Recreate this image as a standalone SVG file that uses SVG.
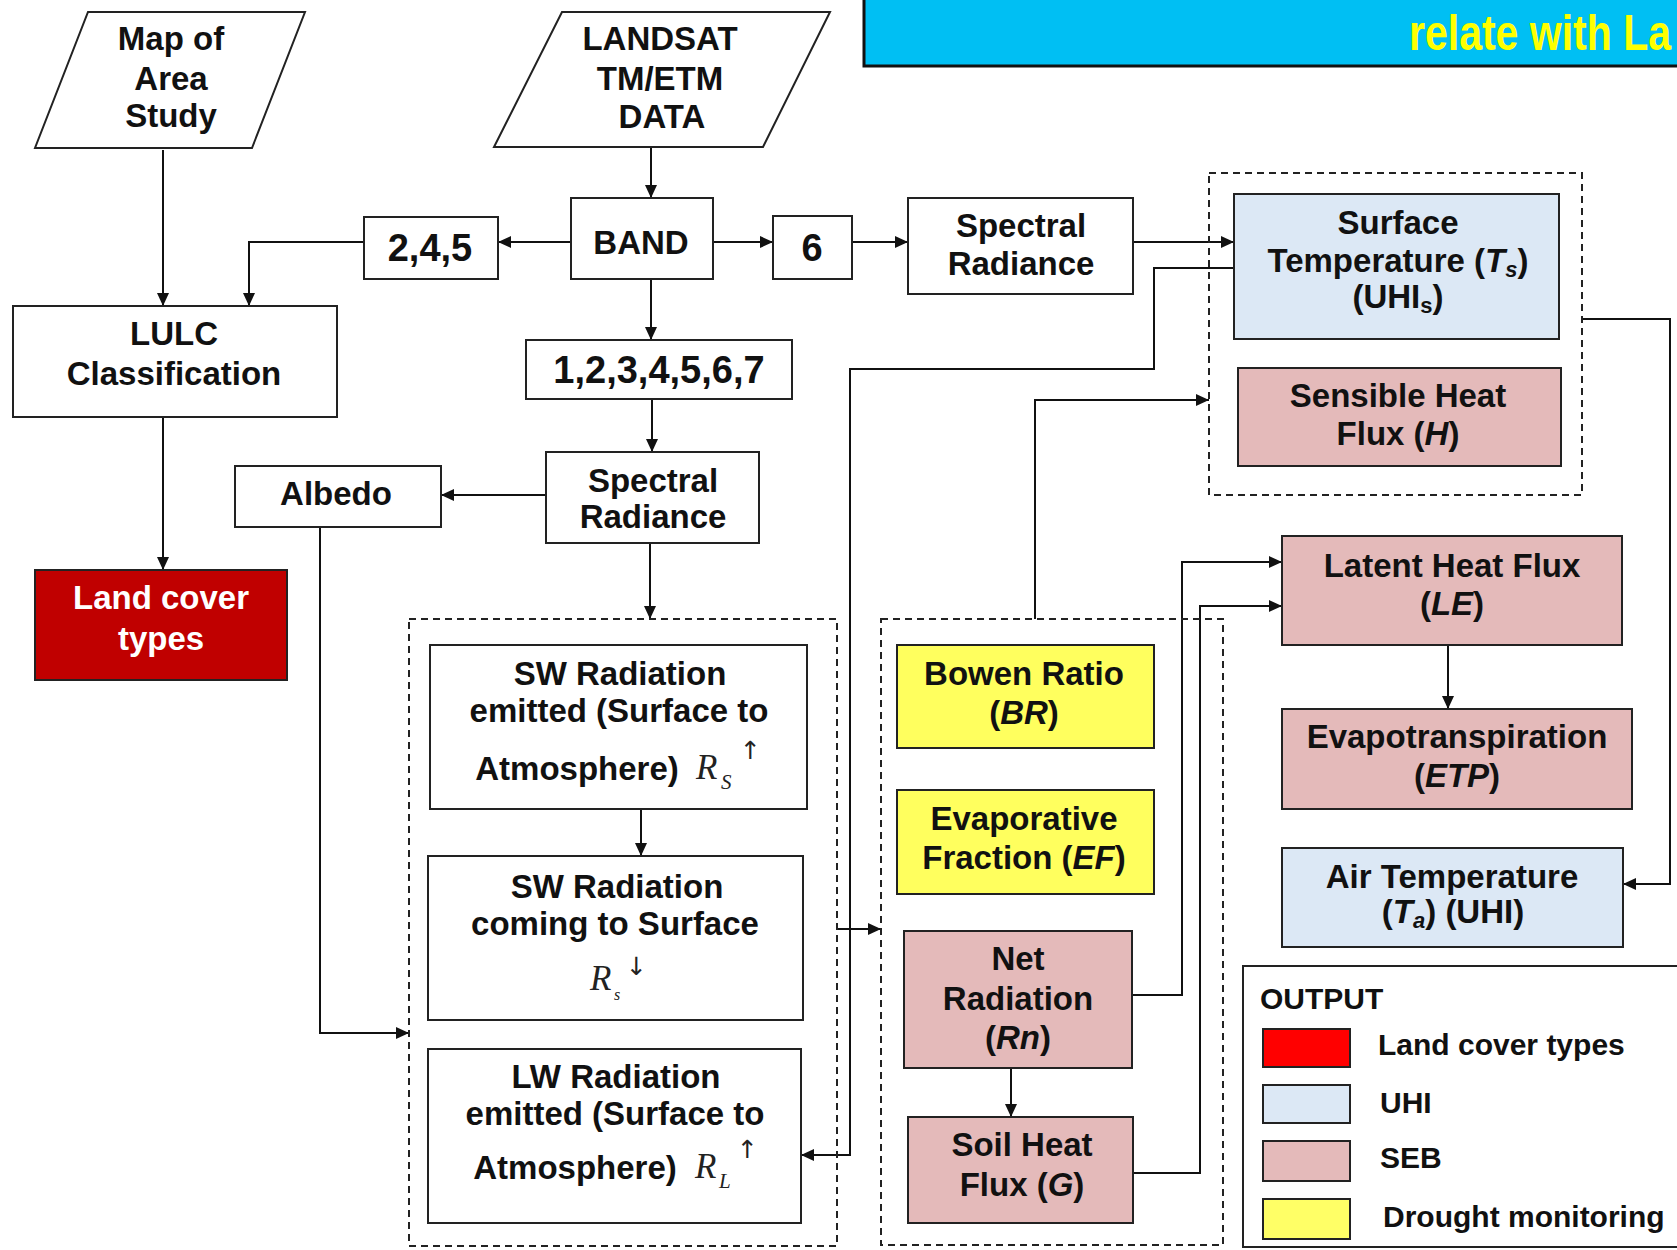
<svg xmlns="http://www.w3.org/2000/svg" width="1677" height="1250" viewBox="0 0 1677 1250">
<defs>
<marker id="ah" markerUnits="userSpaceOnUse" markerWidth="14" markerHeight="12" refX="13" refY="6" orient="auto">
<path d="M0,0 L13,6 L0,12 z" fill="#111"/>
</marker>
<style>
.box{stroke:#222;stroke-width:2;fill:#fff}
.blue{fill:#dce8f5}
.pink{fill:#e4baba}
.yel{fill:#ffff5e}
.red{fill:#c00000}
.dash{fill:none;stroke:#222;stroke-width:2;stroke-dasharray:7,5}
.t{font-family:"Liberation Sans",Arial,sans-serif;font-weight:bold;font-size:33px;fill:#111;text-anchor:middle}
.big{font-size:38px}
.m{font-family:"Liberation Serif","DejaVu Serif",serif;font-style:italic;font-weight:normal;fill:#222}
.ar{font-family:"DejaVu Sans",sans-serif;font-weight:normal;font-style:normal;fill:#222}
.c{fill:none;stroke:#111;stroke-width:2}
.ca{fill:none;stroke:#111;stroke-width:2;marker-end:url(#ah)}
.lg{font-family:"Liberation Sans",Arial,sans-serif;font-weight:bold;font-size:30px;fill:#111}
</style>
</defs>
<rect width="1677" height="1250" fill="#fff"/>

<g id="title">
<rect x="864" y="-5" width="830" height="71" fill="#00bff3" stroke="#111" stroke-width="3"/>
<text x="1409" y="50" font-family="'Liberation Sans',Arial,sans-serif" font-weight="bold" font-size="50" fill="#ffff00" textLength="262" lengthAdjust="spacingAndGlyphs">relate with La</text>
</g>

<g id="connectors">
<path class="ca" d="M163,150 V306"/>
<path class="ca" d="M651,148 V198"/>
<path class="ca" d="M571,242 H498"/>
<path class="ca" d="M364,242 H249 V306"/>
<path class="ca" d="M713,242 H773"/>
<path class="ca" d="M852,242 H908"/>
<path class="ca" d="M651,279 V340"/>
<path class="ca" d="M1133,242 H1234"/>
<path class="ca" d="M652,399 V452"/>
<path class="ca" d="M163,417 V570"/>
<path class="ca" d="M546,495 H441"/>
<path class="ca" d="M650,543 V619"/>
<path class="ca" d="M320,527 V1033 H409"/>
<path class="ca" d="M641,809 V856"/>
<path class="ca" d="M1238,268 H1154 V369 H850 V1155 H801"/>
<path class="ca" d="M837,929 H881"/>
<path class="ca" d="M1035,619 V400 H1209"/>
<path class="ca" d="M1132,995 H1182 V562 H1282"/>
<path class="ca" d="M1133,1173 H1200 V606 H1282"/>
<path class="ca" d="M1448,645 V709"/>
<path class="ca" d="M1011,1068 V1117"/>
<path class="ca" d="M1582,319 H1670 V884 H1623"/>
</g>

<g id="map">
<polygon class="box" points="88,12 305,12 252,148 35,148"/>
<text class="t" x="171" y="50">Map of</text>
<text class="t" x="171" y="90">Area</text>
<text class="t" x="171" y="127">Study</text>
</g>

<g id="landsat">
<polygon class="box" points="562,12 830,12 763,147 494,147"/>
<text class="t" x="660" y="50">LANDSAT</text>
<text class="t" x="660" y="90">TM/ETM</text>
<text class="t" x="662" y="128">DATA</text>
</g>

<g id="band">
<rect class="box" x="571" y="198" width="142" height="81"/>
<text class="t" x="641" y="254">BAND</text>
</g>

<g id="b245">
<rect class="box" x="364" y="217" width="134" height="62"/>
<text class="t big" x="430" y="261">2,4,5</text>
</g>

<g id="b6">
<rect class="box" x="773" y="216" width="79" height="63"/>
<text class="t big" x="812" y="261">6</text>
</g>

<g id="b1234567">
<rect class="box" x="526" y="340" width="266" height="59"/>
<text class="t big" x="659" y="383">1,2,3,4,5,6,7</text>
</g>

<g id="lulc">
<rect class="box" x="13" y="306" width="324" height="111"/>
<text class="t" x="174" y="345">LULC</text>
<text class="t" x="174" y="385">Classification</text>
</g>

<g id="landcover">
<rect class="box red" x="35" y="570" width="252" height="110"/>
<text class="t" x="161" y="609" style="fill:#fff">Land cover</text>
<text class="t" x="161" y="650" style="fill:#fff">types</text>
</g>

<g id="spectral1">
<rect class="box" x="908" y="198" width="225" height="96"/>
<text class="t" x="1021" y="237">Spectral</text>
<text class="t" x="1021" y="275">Radiance</text>
</g>

<g id="spectral2">
<rect class="box" x="546" y="452" width="213" height="91"/>
<text class="t" x="653" y="492">Spectral</text>
<text class="t" x="653" y="528">Radiance</text>
</g>

<g id="albedo">
<rect class="box" x="235" y="466" width="206" height="61"/>
<text class="t" x="336" y="505">Albedo</text>
</g>

<g id="groupRad">
<rect class="dash" x="409" y="619" width="428" height="627"/>
</g>

<g id="swEmitted">
<rect class="box" x="430" y="645" width="377" height="164"/>
<text class="t" x="620" y="685">SW Radiation</text>
<text class="t" x="619" y="722">emitted (Surface to</text>
<text class="t" x="577" y="780">Atmosphere)</text>
<text class="m" x="696" y="779" font-size="35">R</text>
<text class="m" x="721" y="789" font-size="21">S</text>
<text class="ar" x="740" y="759" font-size="25">↑</text>
</g>

<g id="swComing">
<rect class="box" x="428" y="856" width="375" height="164"/>
<text class="t" x="617" y="898">SW Radiation</text>
<text class="t" x="615" y="935">coming to  Surface</text>
<text class="m" x="590" y="990" font-size="35">R</text>
<text class="m" x="614" y="1000" font-size="16">s</text>
<text class="ar" x="626" y="975" font-size="25">↓</text>
</g>

<g id="lwEmitted">
<rect class="box" x="428" y="1049" width="373" height="174"/>
<text class="t" x="616" y="1088">LW Radiation</text>
<text class="t" x="615" y="1125">emitted (Surface to</text>
<text class="t" x="575" y="1179">Atmosphere)</text>
<text class="m" x="695" y="1178" font-size="35">R</text>
<text class="m" x="719" y="1188" font-size="21">L</text>
<text class="ar" x="737" y="1158" font-size="25">↑</text>
</g>

<g id="groupSEB">
<rect class="dash" x="881" y="619" width="342" height="626"/>
</g>

<g id="bowen">
<rect class="box yel" x="897" y="645" width="257" height="103"/>
<text class="t" x="1024" y="685">Bowen Ratio</text>
<text class="t" x="1024" y="724">(<tspan font-style="italic">BR</tspan>)</text>
</g>

<g id="evapfrac">
<rect class="box yel" x="897" y="790" width="257" height="104"/>
<text class="t" x="1024" y="830">Evaporative</text>
<text class="t" x="1024" y="869">Fraction (<tspan font-style="italic">EF</tspan>)</text>
</g>

<g id="netrad">
<rect class="box pink" x="904" y="931" width="228" height="137"/>
<text class="t" x="1018" y="970">Net</text>
<text class="t" x="1018" y="1010">Radiation</text>
<text class="t" x="1018" y="1049">(<tspan font-style="italic">Rn</tspan>)</text>
</g>

<g id="soil">
<rect class="box pink" x="908" y="1117" width="225" height="106"/>
<text class="t" x="1022" y="1156">Soil Heat</text>
<text class="t" x="1022" y="1196">Flux (<tspan font-style="italic">G</tspan>)</text>
</g>

<g id="groupUHI">
<rect class="dash" x="1209" y="173" width="373" height="322"/>
</g>

<g id="surftemp">
<rect class="box blue" x="1234" y="194" width="325" height="145"/>
<text class="t" x="1398" y="234">Surface</text>
<text class="t" x="1398" y="272">Temperature (<tspan font-style="italic">T</tspan><tspan font-style="italic" font-size="22" dy="5">s</tspan><tspan dy="-5">)</tspan></text>
<text class="t" x="1398" y="308">(UHI<tspan font-size="22" dy="5">s</tspan><tspan dy="-5">)</tspan></text>
</g>

<g id="sensible">
<rect class="box pink" x="1238" y="368" width="323" height="98"/>
<text class="t" x="1398" y="407">Sensible Heat</text>
<text class="t" x="1398" y="445">Flux (<tspan font-style="italic">H</tspan>)</text>
</g>

<g id="latent">
<rect class="box pink" x="1282" y="536" width="340" height="109"/>
<text class="t" x="1452" y="577">Latent Heat Flux</text>
<text class="t" x="1452" y="615">(<tspan font-style="italic">LE</tspan>)</text>
</g>

<g id="etp">
<rect class="box pink" x="1282" y="709" width="350" height="100"/>
<text class="t" x="1457" y="748">Evapotranspiration</text>
<text class="t" x="1457" y="787">(<tspan font-style="italic">ETP</tspan>)</text>
</g>

<g id="airtemp">
<rect class="box blue" x="1282" y="848" width="341" height="99"/>
<text class="t" x="1452" y="888">Air  Temperature</text>
<text class="t" x="1453" y="923">(<tspan font-style="italic">T</tspan><tspan font-style="italic" font-size="22" dy="5">a</tspan><tspan dy="-5">) (UHI)</tspan></text>
</g>

<g id="legend">
<rect x="1243" y="966" width="450" height="281" fill="#fff" stroke="#222" stroke-width="2"/>
<text class="lg" x="1260" y="1009" font-size="33">OUTPUT</text>
<rect x="1263" y="1029" width="87" height="38" fill="#ff0000" stroke="#222" stroke-width="2"/>
<rect x="1263" y="1085" width="87" height="38" fill="#dce8f5" stroke="#222" stroke-width="2"/>
<rect x="1263" y="1141" width="87" height="40" fill="#e4baba" stroke="#222" stroke-width="2"/>
<rect x="1263" y="1199" width="87" height="40" fill="#ffff66" stroke="#222" stroke-width="2"/>
<text class="lg" x="1378" y="1055">Land cover types</text>
<text class="lg" x="1380" y="1113">UHI</text>
<text class="lg" x="1380" y="1168">SEB</text>
<text class="lg" x="1383" y="1227">Drought monitoring</text>
</g>
</svg>
